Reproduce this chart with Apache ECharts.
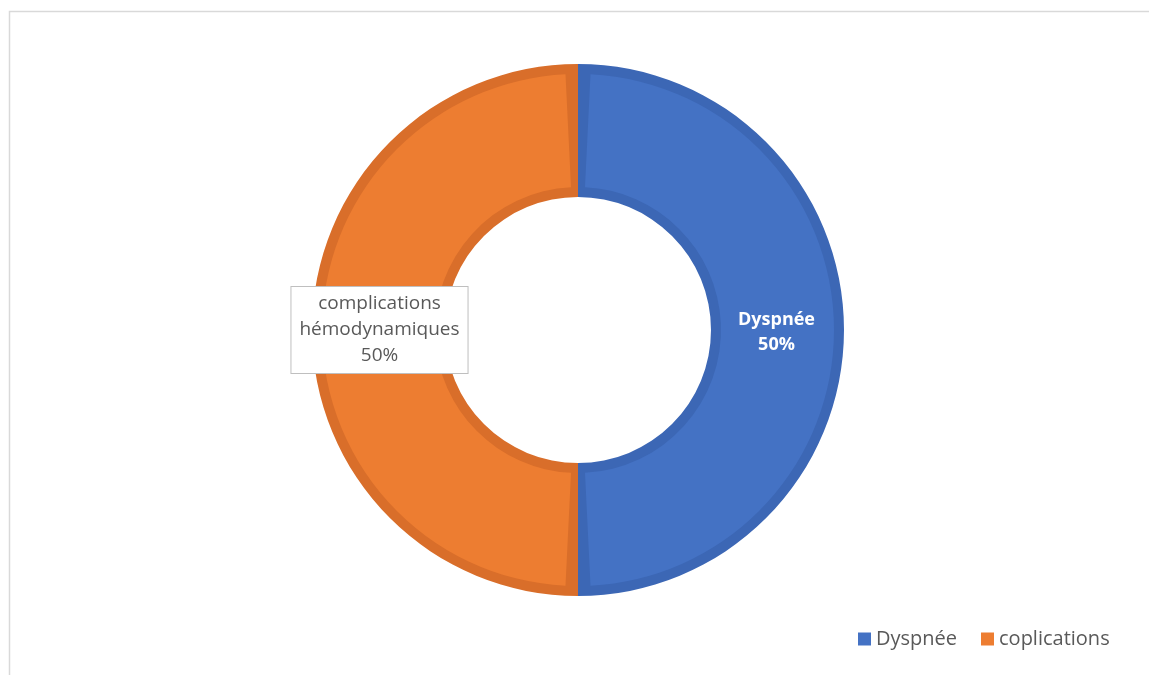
<!DOCTYPE html>
<html><head><meta charset="utf-8">
<script src="https://cdn.jsdelivr.net/npm/echarts@6/dist/echarts.min.js"></script>
<style>html,body{margin:0;padding:0;background:#fff}#c{width:1149px;height:675px}</style>
</head><body><div id="c"></div>
<script>
const categories = ['Dyspnée', 'complications hémodynamiques'];
const labelTexts = ['Dyspnée', 'complications\nhémodynamiques'];
const legendLabels = ['Dyspnée', 'coplications'];
const values = [50, 50];
const colors = ['#4472C4', '#ED7D31'];
const borderColors = ['#3C67B5', '#D96E2A'];

const chart = echarts.init(document.getElementById('c'));
const legendMap = {};
categories.forEach((c, i) => legendMap[c] = legendLabels[i]);

chart.setOption({
  animation: false,
  graphic: [{
    type: 'rect', shape: { x: 9.5, y: 11.5, width: 1200, height: 800 },
    style: { fill: 'none', stroke: '#d9d9d9', lineWidth: 1.5 }, silent: true
  }],
  legend: {
    left: 853, top: 624, itemWidth: 13, itemHeight: 13, itemGap: 24,
    icon: 'rect',
    itemStyle: { borderWidth: 0 },
    textStyle: { fontFamily: 'Open Sans', fontSize: 20, color: '#595959' },
    formatter: n => legendMap[n],
    data: categories.map((c, i) => ({ name: c, itemStyle: { color: colors[i] } }))
  },
  series: [{
    type: 'pie',
    silent: true,
    center: [578, 330],
    radius: [133, 266],
    startAngle: 90,
    clockwise: true,
    label: { show: false },
    labelLine: { show: false },
    data: categories.map((c, i) => ({
      name: c, value: values[i],
      itemStyle: { color: borderColors[i], borderWidth: 0 }
    }))
  }, {
    type: 'pie',
    center: [578, 330],
    radius: [143, 256],
    startAngle: 90,
    clockwise: true,
    padAngle: 5.6,
    labelLine: { show: false },
    data: categories.map((c, i) => {
      const d = {
        name: c, value: values[i],
        itemStyle: { color: colors[i], borderWidth: 0 },
        label: { show: true, position: 'inside' }
      };
      d.label.formatter = () => labelTexts[i] + '\n' + values[i] + '%';
      d.label.fontFamily = 'Open Sans';
      if (i === 0) {
        d.label.color = '#ffffff';
        d.label.fontWeight = 'bold';
        d.label.fontSize = 18;
        d.label.lineHeight = 25;
        d.label.offset = [-4, 2];
      } else {
        d.label.color = '#595959';
        d.label.fontSize = 19;
        d.label.lineHeight = 26;
        d.label.backgroundColor = '#ffffff';
        d.label.borderColor = '#bfbfbf';
        d.label.borderWidth = 1;
        d.label.padding = [4, 8, 4, 8];
        d.label.offset = [4, 0];
      }
      return d;
    })
  }]
});
</script></body></html>
